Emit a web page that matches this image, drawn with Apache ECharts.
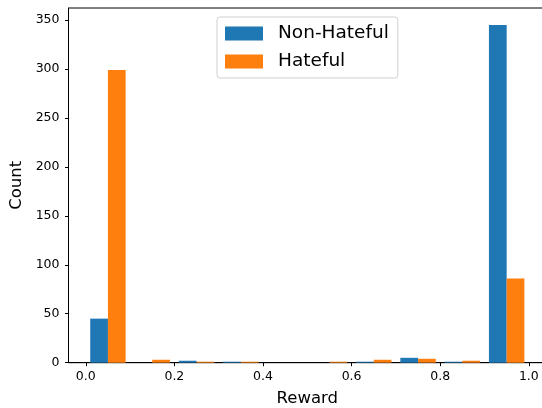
<!DOCTYPE html>
<html>
<head>
<meta charset="utf-8">
<script src="https://cdn.jsdelivr.net/npm/echarts@6/dist/echarts.min.js"></script>
<style>html,body{margin:0;padding:0;background:#fff}#c{width:542px;height:408px}</style>
</head>
<body>
<div id="c"></div>
<script>
const binStarts = [0.0, 0.1, 0.2, 0.3, 0.4, 0.5, 0.6, 0.7, 0.8, 0.9];
const nonHateful = [45, 0, 2, 1, 0, 0, 1, 5, 1, 345];
const hateful = [299, 3, 1, 1, 0, 1, 3, 4, 2, 86];
const xTicks = [0.0, 0.2, 0.4, 0.6, 0.8, 1.0];
const yTicks = [0, 50, 100, 150, 200, 250, 300, 350];
const seriesNames = ['Non-Hateful', 'Hateful'];
const colors = ['#1f77b4', '#ff7f0e'];

const binWidth = 0.1;
const barW = binWidth * 0.8 / 2;
const FONT = 'DejaVu Sans';

function makeSeries(name, values, k, color) {
  return {
    name: name,
    type: 'custom',
    itemStyle: { color: color },
    encode: { x: 0, y: 1 },
    data: binStarts.map((b, i) => [b, values[i]]),
    renderItem: function (params, api) {
      const x0 = api.value(0) + binWidth * 0.1 + k * barW;
      const p1 = api.coord([x0, api.value(1)]);
      const p2 = api.coord([x0 + barW, 0]);
      return {
        type: 'rect',
        shape: { x: p1[0], y: p1[1], width: p2[0] - p1[0], height: p2[1] - p1[1] },
        style: { fill: color }
      };
    }
  };
}

const chart = echarts.init(document.getElementById('c'), null, { renderer: 'canvas' });
chart.setOption({
  animation: false,
  backgroundColor: '#fff',
  textStyle: { fontFamily: FONT },
  grid: {
    left: 68.5, right: -4.1, top: 8, bottom: 45.3,
    outerBoundsMode: 'none', containLabel: false,
    show: true, borderColor: '#000', borderWidth: 1, backgroundColor: 'transparent'
  },
  legend: {
    orient: 'vertical',
    left: 217, top: 17,
    padding: [7, 9, 7, 8],
    itemGap: 9,
    itemWidth: 38, itemHeight: 14,
    icon: 'rect',
    borderColor: '#d0d0d0', borderWidth: 1, borderRadius: 3,
    backgroundColor: 'rgba(255,255,255,0.8)',
    textStyle: { fontFamily: FONT, fontSize: 18.5, color: '#000', padding: [0, 0, 0, 10] },
    data: seriesNames
  },
  xAxis: {
    type: 'value', min: -0.039, max: 1.039,
    name: 'Reward', nameLocation: 'middle', nameGap: 28,
    nameTextStyle: { fontFamily: FONT, fontSize: 16.5, color: '#000' },
    splitLine: { show: false },
    axisLine: { show: true, onZero: false, lineStyle: { color: '#000', width: 1 } },
    axisTick: { show: true, inside: false, length: 3.5, lineStyle: { color: '#000' }, customValues: xTicks },
    axisLabel: {
      color: '#000', fontFamily: FONT, fontSize: 12.5, margin: 8,
      customValues: xTicks,
      formatter: v => v.toFixed(1)
    }
  },
  yAxis: {
    type: 'value', min: 0, max: 362.25,
    name: 'Count', nameLocation: 'middle', nameGap: 36,
    nameTextStyle: { fontFamily: FONT, fontSize: 16.5, color: '#000' },
    splitLine: { show: false },
    axisLine: { show: true, onZero: false, lineStyle: { color: '#000', width: 1 } },
    axisTick: { show: true, inside: false, length: 3.5, lineStyle: { color: '#000' }, customValues: yTicks },
    axisLabel: {
      color: '#000', fontFamily: FONT, fontSize: 12.5, margin: 9,
      customValues: yTicks
    }
  },
  series: [
    makeSeries(seriesNames[0], nonHateful, 0, colors[0]),
    makeSeries(seriesNames[1], hateful, 1, colors[1])
  ]
});
</script>
</body>
</html>
